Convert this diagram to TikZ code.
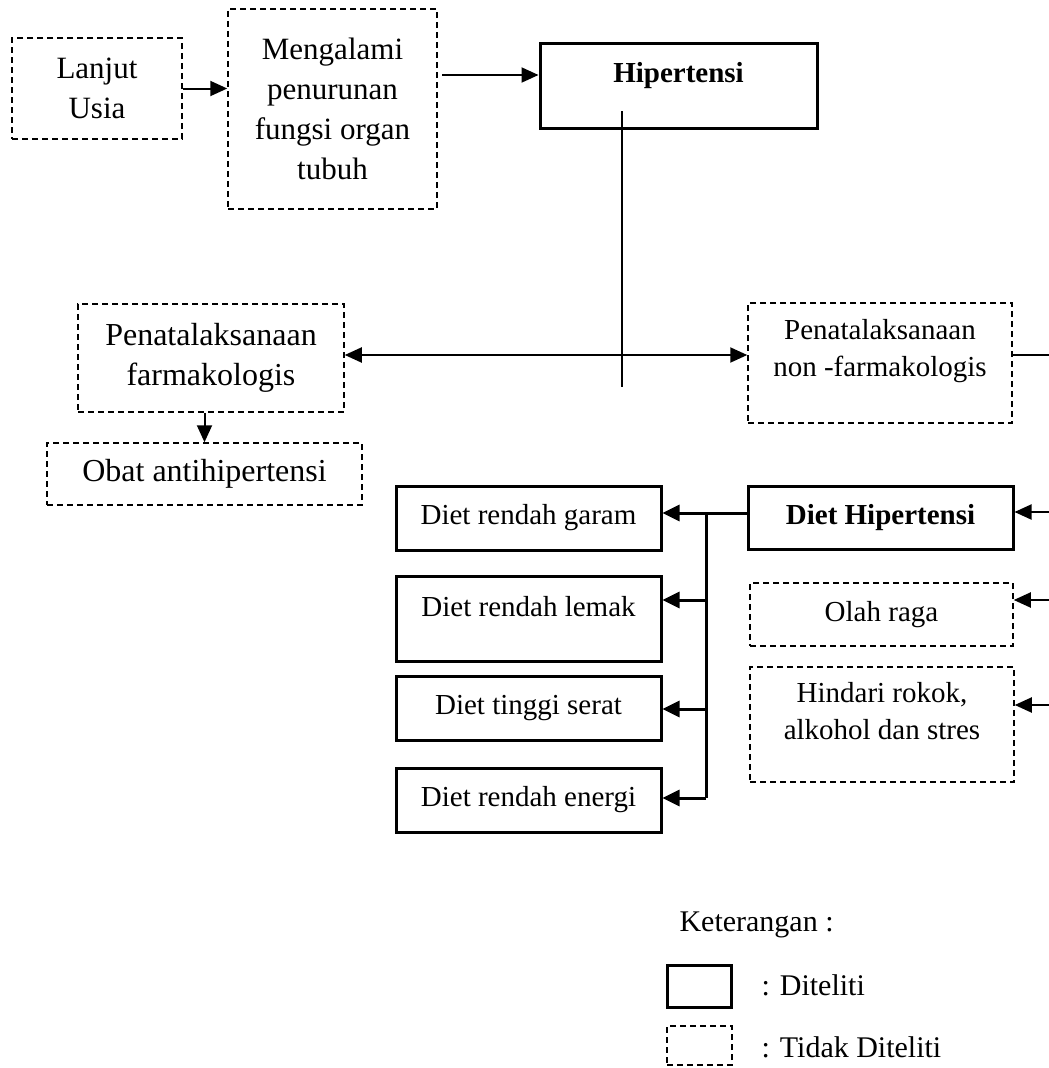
\documentclass[tikz,border=0pt]{standalone}
\usepackage{fontspec}
\setmainfont{Liberation Serif}
\usetikzlibrary{arrows.meta}
\begin{document}
\begin{tikzpicture}[x=1pt,y=-1pt,
  txt/.style={align=center, font=\fontsize{29}{37}\selectfont},
  bigtxt/.style={align=center, font=\fontsize{31}{40}\selectfont},
  midtxt/.style={align=center, font=\fontsize{32}{40}\selectfont},
  sbox/.style={draw, line width=3pt, inner sep=2pt, txt},
  dbox/.style={draw, line width=1.5pt, dash pattern=on 6pt off 4pt, inner sep=2pt, txt},
  arr/.style={line width=2pt, -{Triangle[length=17pt,width=15pt]}},
  darr/.style={line width=2pt, {Triangle[length=17pt,width=15pt]}-{Triangle[length=17pt,width=15pt]}},
  barr/.style={line width=3pt, -{Triangle[length=17pt,width=16pt]}},
  bline/.style={line width=3pt},
  thinline/.style={line width=1.5pt},
  lgtxt/.style={font=\fontsize{30}{38}\selectfont}
]
\useasboundingbox (0,0) rectangle (1049,1068);

% top row
\node[dbox, bigtxt, minimum width=170pt, minimum height=101pt] (lanjut) at (97,88.5) {Lanjut\\Usia};
\node[dbox, bigtxt, minimum width=209pt, minimum height=200pt] (meng) at (332.5,109) {Mengalami\\penurunan\\fungsi organ\\tubuh};
\node[sbox, minimum width=277pt, minimum height=85pt,
  label={[txt, font=\fontsize{29}{37}\selectfont\bfseries, yshift=9.5pt]center:Hipertensi}] (hip) at (678.5,85.5) {};

% management
\node[dbox, midtxt, minimum width=266pt, minimum height=108pt] (farm) at (211,358) {Penatalaksanaan\\farmakologis};
\node[dbox, midtxt, minimum width=315pt, minimum height=62pt] (obat) at (204.5,474) {Obat antihipertensi};
\node[dbox, minimum width=264pt, minimum height=120pt,
  label={[txt, yshift=11.5pt]center:{Penatalaksanaan\\non -farmakologis}}] (nonf) at (880,363) {};

% right column
\node[sbox, minimum width=265pt, minimum height=63pt, font=\fontsize{29}{37}\selectfont\bfseries] (dh) at (880.5,517.5) {Diet Hipertensi};
\node[dbox, minimum width=263pt, minimum height=63pt] (olah) at (881.5,614.5) {Olah raga};
\node[dbox, minimum width=264pt, minimum height=115pt,
  label={[txt, yshift=13pt]center:{Hindari rokok,\\alkohol dan stres}}] (hind) at (882,724.5) {};

% diet boxes
\node[sbox, minimum width=265pt, minimum height=64pt] (garam) at (528.5,518) {Diet rendah garam};
\node[sbox, minimum width=265pt, minimum height=85pt,
  label={[txt, yshift=11.5pt]center:Diet rendah lemak}] (lemak) at (528.5,618.5) {};
\node[sbox, minimum width=265pt, minimum height=64pt] (serat) at (528.5,708) {Diet tinggi serat};
\node[sbox, minimum width=265pt, minimum height=64pt] (energi) at (528.5,800) {Diet rendah energi};

% legend
\node[lgtxt, anchor=west] (ket) at (676,925) {Keterangan :};
\node[draw, line width=3pt, minimum width=64pt, minimum height=42pt] (lgs) at (699,986) {};
\node[draw, line width=1.5pt, dash pattern=on 6pt off 4pt, minimum width=65pt, minimum height=39pt] (lgd) at (699.5,1045.5) {};
\node[lgtxt, anchor=west] (lgst) at (758,985) {: Diteliti};
\node[lgtxt, anchor=west] (lgdt) at (758,1047) {: Tidak Diteliti};

% coordinates
\coordinate (m1) at (442,75);
\coordinate (vtop) at (622,111);
\coordinate (vbot) at (622,387);
\coordinate (hx) at (622,355);
\coordinate (re1) at (1049,355);
\coordinate (re2) at (1049,512);
\coordinate (re3) at (1049,600);
\coordinate (re4) at (1049,705);
\coordinate (bus) at (706,513);
\coordinate (b2) at (706,600);
\coordinate (b3) at (706,709);
\coordinate (b4) at (706,798);

% connectors
\draw[arr] (lanjut.east) -- (lanjut.east -| meng.west);
\draw[arr] (m1) -- (m1 -| hip.west);
\draw[thinline] (vtop) -- (vbot);
\draw[darr] (farm.east |- hx) -- (nonf.west |- hx);
\draw[arr] (obat.north |- farm.south) -- (obat.north);
\draw[thinline] (nonf.east |- re1) -- (re1);
\draw[arr] (re2) -- (re2 -| dh.east);
\draw[arr] (re3) -- (re3 -| olah.east);
\draw[arr] (re4) -- (re4 -| hind.east);

\draw[barr] (dh.west |- bus) -- (bus -| garam.east);
\draw[bline] (bus) -- (b4);
\draw[barr] (b2) -- (b2 -| lemak.east);
\draw[barr] (b3) -- (b3 -| serat.east);
\draw[barr] (b4) -- (b4 -| energi.east);
\end{tikzpicture}
\end{document}
